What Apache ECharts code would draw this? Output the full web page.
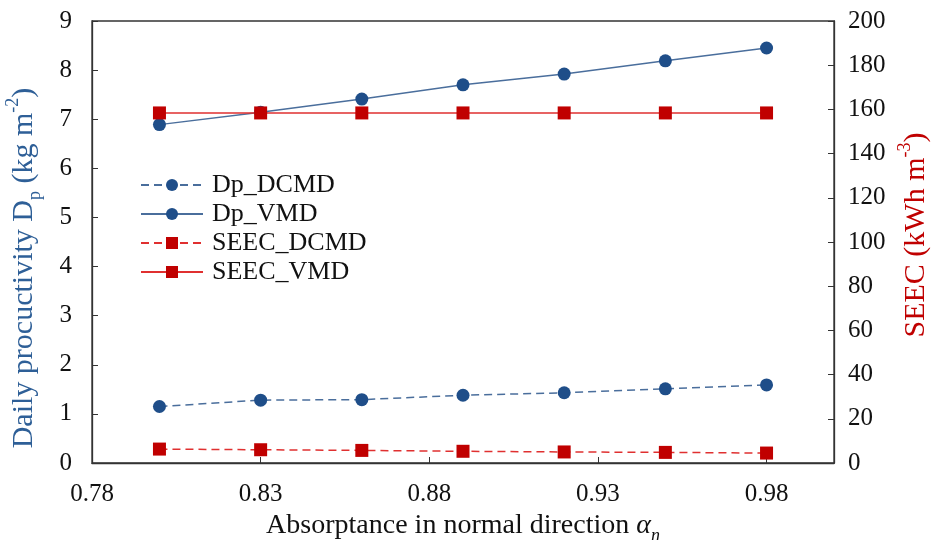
<!DOCTYPE html>
<html>
<head>
<meta charset="utf-8">
<script src="https://cdn.jsdelivr.net/npm/echarts@6/dist/echarts.min.js"></script>
<style>html,body{margin:0;padding:0;background:#fff;}#c{width:931px;height:540px;}</style>
</head>
<body>
<div id="c"></div>
<script>
var absorptance = [0.80, 0.83, 0.86, 0.89, 0.92, 0.95, 0.98];
var dpDCMD = [1.15, 1.28, 1.29, 1.38, 1.43, 1.51, 1.59];
var dpVMD = [6.89, 7.14, 7.41, 7.70, 7.92, 8.19, 8.45];
var seecDCMD = [6.3, 6.0, 5.7, 5.3, 5.0, 4.8, 4.5];
var seecVMD = [158.4, 158.4, 158.4, 158.4, 158.4, 158.4, 158.4];

function pairs(xs, ys){ return xs.map(function(x,i){ return [x, ys[i]]; }); }

var FONT = '"Liberation Serif", "Times New Roman", serif';
var BLUE = '#1F4E89';
var BLUE_LINE = '#4A6E9C';
var RED = '#C00000';
var RED_LINE = '#E03030';
var TITLE_BLUE = '#2E5F97';

var chart = echarts.init(document.getElementById('c'), null, {renderer: 'canvas'});
chart.setOption({
  animation: false,
  backgroundColor: '#fff',
  textStyle: {fontFamily: FONT},
  grid: {left: 92, right: 97, top: 21, bottom: 77, containLabel: false, outerBoundsMode: 'none',
    show: true, borderColor: '#333', borderWidth: 1.3, backgroundColor: 'transparent'},
  legend: {
    left: 140, top: 172, orient: 'vertical', itemWidth: 62, itemHeight: 15, itemGap: 3, padding: 0,
    textStyle: {fontFamily: FONT, fontSize: 26, color: '#111', padding: [0,0,0,4]},
    data: ['Dp_DCMD', 'Dp_VMD', 'SEEC_DCMD', 'SEEC_VMD']
  },
  xAxis: {
    type: 'value', min: 0.78, max: 1.0, interval: 0.05,
    axisLine: {show: true, lineStyle: {color: '#333', width: 1.3}},
    axisTick: {show: true, inside: true, length: 6, lineStyle: {color: '#333'}},
    splitLine: {show: false},
    axisLabel: {fontFamily: FONT, fontSize: 25, color: '#111', margin: 19, showMaxLabel: false,
      formatter: function(v){ return v.toFixed(2); }},
    name: '{t|Absorptance in normal direction }{a|α}{n|n}',
    nameLocation: 'middle', nameGap: 42,
    nameTextStyle: {
      rich: {
        t: {fontFamily: FONT, fontSize: 28, lineHeight: 38, color: '#111'},
        a: {fontFamily: FONT, fontSize: 28, lineHeight: 38, fontStyle: 'italic', color: '#111'},
        n: {fontFamily: FONT, fontSize: 18, lineHeight: 8, fontStyle: 'italic', color: '#111', verticalAlign: 'bottom'}
      }
    }
  },
  yAxis: [{
    type: 'value', min: 0, max: 9, interval: 1,
    axisLine: {show: true, lineStyle: {color: '#333', width: 1.3}},
    axisTick: {show: true, inside: true, length: 6, lineStyle: {color: '#333'}},
    splitLine: {show: false},
    axisLabel: {fontFamily: FONT, fontSize: 25, color: '#111', margin: 20},
    name: '{t|Daily procuctivity D}{s|p}{t| (kg m}{u|-2}{t|)}',
    nameLocation: 'middle', nameGap: 48, nameRotate: 90,
    nameTextStyle: {
      padding: [0, 52, 0, 0],
      rich: {
        t: {fontFamily: FONT, fontSize: 30, lineHeight: 40, color: TITLE_BLUE},
        s: {fontFamily: FONT, fontSize: 18, lineHeight: 8, color: TITLE_BLUE, verticalAlign: 'bottom'},
        u: {fontFamily: FONT, fontSize: 18, lineHeight: 18, color: TITLE_BLUE, verticalAlign: 'top'}
      }
    }
  }, {
    type: 'value', min: 0, max: 200, interval: 20, position: 'right',
    axisLine: {show: true, lineStyle: {color: '#333', width: 1.3}},
    axisTick: {show: true, inside: true, length: 6, lineStyle: {color: '#333'}},
    splitLine: {show: false},
    axisLabel: {fontFamily: FONT, fontSize: 25, color: '#111', margin: 14},
    name: '{t|SEEC (kWh m}{u|-3}{t|)}',
    nameLocation: 'middle', nameGap: 58, nameRotate: 90,
    nameTextStyle: {
      padding: [0, 0, 0, 14],
      rich: {
        t: {fontFamily: FONT, fontSize: 30, lineHeight: 40, color: RED},
        u: {fontFamily: FONT, fontSize: 18, lineHeight: 18, color: RED, verticalAlign: 'top'}
      }
    }
  }],
  series: [{
    name: 'Dp_DCMD', type: 'line', yAxisIndex: 0, data: pairs(absorptance, dpDCMD),
    symbol: 'circle', symbolSize: 13,
    itemStyle: {color: BLUE}, lineStyle: {color: BLUE_LINE, width: 1.5, type: [8, 5]}
  }, {
    name: 'Dp_VMD', type: 'line', yAxisIndex: 0, data: pairs(absorptance, dpVMD),
    symbol: 'circle', symbolSize: 13,
    itemStyle: {color: BLUE}, lineStyle: {color: BLUE_LINE, width: 1.5, type: 'solid'}
  }, {
    name: 'SEEC_DCMD', type: 'line', yAxisIndex: 1, data: pairs(absorptance, seecDCMD),
    symbol: 'rect', symbolSize: 13,
    itemStyle: {color: RED}, lineStyle: {color: RED_LINE, width: 1.5, type: [8, 5]}
  }, {
    name: 'SEEC_VMD', type: 'line', yAxisIndex: 1, data: pairs(absorptance, seecVMD),
    symbol: 'rect', symbolSize: 13,
    itemStyle: {color: RED}, lineStyle: {color: RED_LINE, width: 1.5, type: 'solid'}
  }]
});
</script>
</body>
</html>
